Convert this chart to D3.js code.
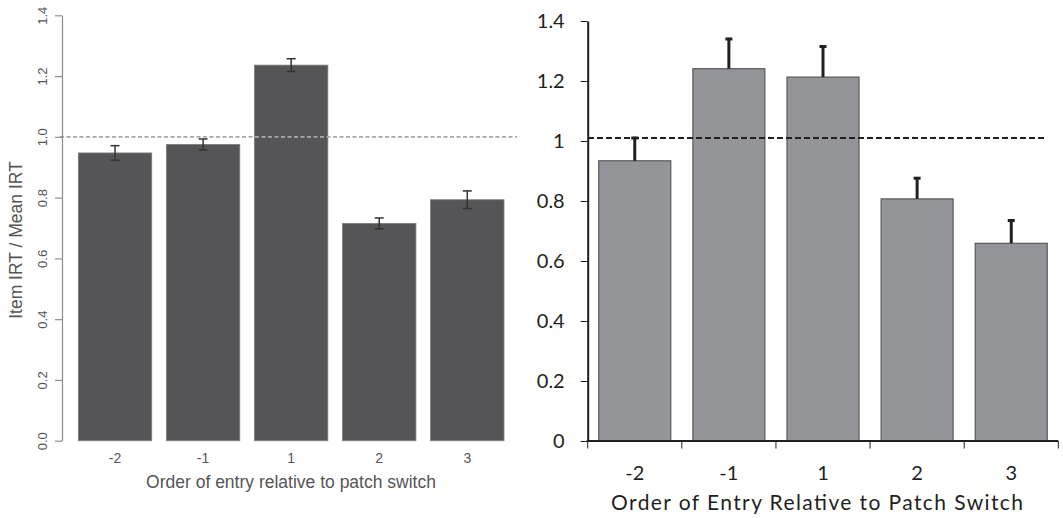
<!DOCTYPE html>
<html>
<head>
<meta charset="utf-8">
<script src="https://cdn.jsdelivr.net/npm/d3@7"></script>
<style>
  html, body { margin: 0; padding: 0; background: #fff; }
  svg { display: block; }
</style>
</head>
<body>
<svg id="chart" width="1063" height="518"></svg>
<script>
// Position of the entry relative to the patch switch
const categories = ["-2", "-1", "1", "2", "3"];

// Panel A: item IRT / mean IRT with symmetric standard-error bars
const leftMeans  = [0.947, 0.975, 1.236, 0.715, 0.793];
const leftErrors = [0.024, 0.018, 0.021, 0.018, 0.029];
const leftTicks  = [0, 0.2, 0.4, 0.6, 0.8, 1.0, 1.2, 1.4];
const leftTickLabels = ["0.0", "0.2", "0.4", "0.6", "0.8", "1.0", "1.2", "1.4"];
const leftReference = 1.0;

// Panel B: same measure, upper error bars only
const rightMeans  = [0.934, 1.241, 1.213, 0.807, 0.659];
const rightErrors = [0.080, 0.103, 0.106, 0.073, 0.080];
const rightTicks  = [0, 0.2, 0.4, 0.6, 0.8, 1.0, 1.2, 1.4];
const rightTickLabels = ["0", "0.2", "0.4", "0.6", "0.8", "1", "1.2", "1.4"];
const rightReference = 1.01;

const svg = d3.select("#chart");

// ---------- Left panel (R-style barplot) ----------
(function () {
  const g = svg.append("g");
  const x = d3.scaleBand().domain(categories)
    .range([71, 511.3]).paddingInner(0.1667).paddingOuter(0.0833);
  const y = d3.scaleLinear().domain([0, 1.4]).range([440.7, 15.3]);
  const font = "'Liberation Sans', Arial, sans-serif";
  const textCol = "#555555";

  g.selectAll("rect.bar").data(leftMeans).join("rect")
    .attr("class", "bar")
    .attr("x", (d, i) => x(categories[i]))
    .attr("y", d => y(d))
    .attr("width", x.bandwidth())
    .attr("height", d => y(0) - y(d))
    .attr("fill", "#555557")
    .attr("stroke", "#7a7a7c")
    .attr("stroke-width", 0.8);

  // reference line at the mean IRT
  g.append("line")
    .attr("x1", 60).attr("x2", 517)
    .attr("y1", y(leftReference)).attr("y2", y(leftReference))
    .attr("stroke", "#a8a8a8").attr("stroke-width", 1.6)
    .attr("stroke-dasharray", "4,2.5");

  // error bars
  const eb = g.selectAll("g.err").data(leftMeans).join("g").attr("class", "err")
    .attr("stroke", "#333").attr("stroke-width", 1.5);
  eb.append("line")
    .attr("x1", (d, i) => x(categories[i]) + x.bandwidth() / 2)
    .attr("x2", (d, i) => x(categories[i]) + x.bandwidth() / 2)
    .attr("y1", (d, i) => y(d - leftErrors[i]))
    .attr("y2", (d, i) => y(d + leftErrors[i]));
  [-1, 1].forEach(s => {
    eb.append("line")
      .attr("x1", (d, i) => x(categories[i]) + x.bandwidth() / 2 - 4.5)
      .attr("x2", (d, i) => x(categories[i]) + x.bandwidth() / 2 + 4.5)
      .attr("y1", (d, i) => y(d + s * leftErrors[i]))
      .attr("y2", (d, i) => y(d + s * leftErrors[i]));
  });

  // y axis
  const ax = g.append("g").attr("transform", "translate(62,0)")
    .call(d3.axisLeft(y).tickValues(leftTicks).tickSize(7).tickSizeOuter(0).tickFormat(""));
  ax.select(".domain").attr("stroke", "#8e8e8e").attr("stroke-width", 1.2);
  ax.selectAll(".tick line").attr("stroke", "#8e8e8e").attr("stroke-width", 1.2);
  ax.selectAll(".tick").append("text")
    .attr("transform", "translate(-20,0) rotate(-90)")
    .attr("text-anchor", "middle").attr("dy", "0.36em")
    .attr("fill", textCol).style("font-family", font).style("font-size", "13px")
    .text((d, i) => leftTickLabels[i]);

  // category labels
  g.selectAll("text.cat").data(categories).join("text")
    .attr("class", "cat")
    .attr("x", d => x(d) + x.bandwidth() / 2).attr("y", 458.3)
    .attr("dy", "0.35em").attr("text-anchor", "middle")
    .attr("fill", textCol).style("font-family", font).style("font-size", "14px")
    .text(d => d);

  g.append("text")
    .attr("x", 291).attr("y", 482).attr("dy", "0.35em")
    .attr("text-anchor", "middle").attr("fill", textCol)
    .style("font-family", font).style("font-size", "17.5px")
    .text("Order of entry relative to patch switch");

  g.append("text")
    .attr("transform", "translate(15.5,240) rotate(-90)")
    .attr("dy", "0.35em").attr("text-anchor", "middle").attr("fill", textCol)
    .style("font-family", font).style("font-size", "17.5px")
    .text("Item IRT / Mean IRT");
})();

// ---------- Right panel (spreadsheet-style column chart) ----------
(function () {
  const g = svg.append("g");
  const x = d3.scaleBand().domain(categories)
    .range([587.7, 1058.3]).paddingInner(0.235).paddingOuter(0.1175);
  const y = d3.scaleLinear().domain([0, 1.4]).range([441, 21]);
  const font = "Lato, 'Open Sans', sans-serif";
  const ink = "#231f20";

  g.selectAll("rect.bar").data(rightMeans).join("rect")
    .attr("class", "bar")
    .attr("x", (d, i) => x(categories[i]))
    .attr("y", d => y(d))
    .attr("width", x.bandwidth())
    .attr("height", d => y(0) - y(d))
    .attr("fill", "#939598")
    .attr("stroke", "#58595b")
    .attr("stroke-width", 1.2);

  // upper error bars
  const cx = i => x(categories[i]) + x.bandwidth() / 2;
  g.selectAll("line.err").data(rightMeans).join("line")
    .attr("class", "err")
    .attr("x1", (d, i) => cx(i)).attr("x2", (d, i) => cx(i))
    .attr("y1", d => y(d)).attr("y2", (d, i) => y(d + rightErrors[i]))
    .attr("stroke", ink).attr("stroke-width", 3);
  g.selectAll("line.cap").data(rightMeans).join("line")
    .attr("class", "cap")
    .attr("x1", (d, i) => cx(i) - 3.5).attr("x2", (d, i) => cx(i) + 3.5)
    .attr("y1", (d, i) => y(d + rightErrors[i]) + 1.2)
    .attr("y2", (d, i) => y(d + rightErrors[i]) + 1.2)
    .attr("stroke", ink).attr("stroke-width", 3);

  // reference line
  g.append("line")
    .attr("x1", 588).attr("x2", 1045)
    .attr("y1", y(rightReference)).attr("y2", y(rightReference))
    .attr("stroke", ink).attr("stroke-width", 2)
    .attr("stroke-dasharray", "6,3");

  // y axis
  const ay = g.append("g").attr("transform", "translate(587.7,0)")
    .call(d3.axisLeft(y).tickValues(rightTicks).tickSize(7).tickSizeOuter(0).tickPadding(16)
      .tickFormat((d, i) => rightTickLabels[i]));
  ay.select(".domain").attr("stroke", ink).attr("stroke-width", 2);
  ay.selectAll(".tick line").attr("stroke", ink).attr("stroke-width", 1);
  ay.selectAll(".tick text").attr("fill", ink)
    .style("font-family", font).style("font-size", "20px");

  // x axis with boundary ticks between categories
  const bounds = d3.range(categories.length + 1).map(i => 587.7 + i * x.step());
  g.append("line")
    .attr("x1", 586.7).attr("x2", 1058.3).attr("y1", y(0)).attr("y2", y(0))
    .attr("stroke", ink).attr("stroke-width", 2);
  g.selectAll("line.xt").data(bounds).join("line")
    .attr("class", "xt")
    .attr("x1", d => d).attr("x2", d => d)
    .attr("y1", y(0)).attr("y2", y(0) + 7.5)
    .attr("stroke", ink).attr("stroke-width", 1);

  g.selectAll("text.cat").data(categories).join("text")
    .attr("class", "cat")
    .attr("x", d => x(d) + x.bandwidth() / 2).attr("y", 472.7)
    .attr("dy", "0.35em").attr("text-anchor", "middle")
    .attr("fill", ink).style("font-family", font).style("font-size", "20px")
    .text(d => d);

  g.append("text")
    .attr("x", 817).attr("y", 503).attr("dy", "0.35em")
    .attr("text-anchor", "middle").attr("fill", ink)
    .attr("textLength", 412).attr("lengthAdjust", "spacing")
    .style("font-family", font).style("font-size", "21px")
    .text("Order of Entry Relative to Patch Switch");
})();
</script>
</body>
</html>
